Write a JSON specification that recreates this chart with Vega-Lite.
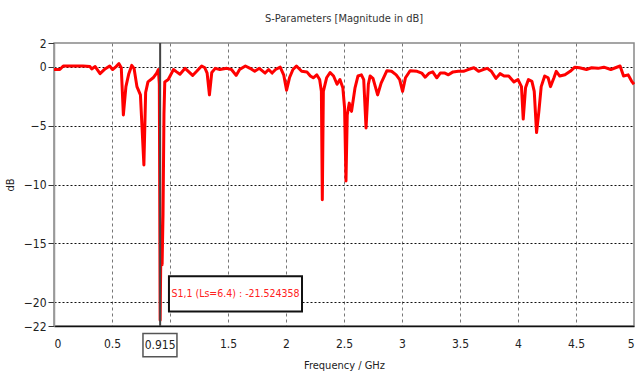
{
  "$schema": "https://vega.github.io/schema/vega-lite/v6.json",
  "autosize": "none",
  "width": 580,
  "height": 283,
  "padding": {"left": 54, "top": 43, "right": 3, "bottom": 54},
  "background": "white",
  "title": {"text": "S-Parameters [Magnitude in dB]", "fontSize": 11, "fontWeight": "normal", "color": "#333", "offset": 13, "font": "DejaVu Sans Condensed"},
  "config": {
    "font": "DejaVu Sans Condensed",
    "view": {"stroke": "#888", "strokeWidth": 1.5},
    "axis": {"labelFontSize": 12, "labelColor": "#222", "titleFontSize": 11, "titleFontWeight": "normal", "titleColor": "#222", "labelFont": "DejaVu Sans Condensed", "titleFont": "DejaVu Sans Condensed"}
  },
  "datasets": {
    "s11": [
      {"f": 0, "db": -0.25}, {"f": 0.05, "db": -0.25}, {"f": 0.08, "db": 0.05}, {"f": 0.15, "db": 0.05},
      {"f": 0.25, "db": 0.05}, {"f": 0.31, "db": 0.0}, {"f": 0.325, "db": -0.2}, {"f": 0.355, "db": 0.0},
      {"f": 0.397, "db": -0.6}, {"f": 0.44, "db": -0.2}, {"f": 0.48, "db": 0.05}, {"f": 0.505, "db": -0.25},
      {"f": 0.535, "db": 0.0}, {"f": 0.56, "db": 0.25}, {"f": 0.58, "db": -0.1}, {"f": 0.598, "db": -4.1},
      {"f": 0.62, "db": -1.7}, {"f": 0.645, "db": -0.6}, {"f": 0.67, "db": 0.1}, {"f": 0.69, "db": -0.15},
      {"f": 0.715, "db": -1.7}, {"f": 0.745, "db": -2.4}, {"f": 0.775, "db": -8.35}, {"f": 0.79, "db": -2.2},
      {"f": 0.81, "db": -1.3}, {"f": 0.855, "db": -0.95}, {"f": 0.885, "db": -0.55}, {"f": 0.9, "db": -0.25},
      {"f": 0.908, "db": -1.5}, {"f": 0.915, "db": -21.52}, {"f": 0.922, "db": -14.8}, {"f": 0.932, "db": -16.8},
      {"f": 0.94, "db": -12.5}, {"f": 0.948, "db": -4}, {"f": 0.955, "db": -1.3}, {"f": 0.985, "db": -1.1},
      {"f": 1.006, "db": -0.7}, {"f": 1.03, "db": -0.25}, {"f": 1.057, "db": -0.45}, {"f": 1.086, "db": -0.65},
      {"f": 1.13, "db": -0.15}, {"f": 1.158, "db": -0.4}, {"f": 1.195, "db": -0.75}, {"f": 1.23, "db": -0.4},
      {"f": 1.273, "db": 0.05}, {"f": 1.3, "db": -0.1}, {"f": 1.32, "db": -0.55}, {"f": 1.34, "db": -2.4},
      {"f": 1.36, "db": -0.5}, {"f": 1.39, "db": -0.15}, {"f": 1.43, "db": -0.25}, {"f": 1.49, "db": -0.15},
      {"f": 1.53, "db": -0.25}, {"f": 1.57, "db": -0.75}, {"f": 1.6, "db": -0.25}, {"f": 1.65, "db": 0.05},
      {"f": 1.69, "db": -0.15}, {"f": 1.73, "db": -0.4}, {"f": 1.77, "db": -0.15}, {"f": 1.82, "db": -0.55},
      {"f": 1.85, "db": -0.25}, {"f": 1.88, "db": -0.55}, {"f": 1.91, "db": -0.25}, {"f": 1.95, "db": -0.05},
      {"f": 1.98, "db": -0.7}, {"f": 2.005, "db": -2.0}, {"f": 2.03, "db": -0.95}, {"f": 2.06, "db": -0.25},
      {"f": 2.09, "db": 0.05}, {"f": 2.135, "db": -0.4}, {"f": 2.18, "db": -0.45}, {"f": 2.21, "db": -0.8},
      {"f": 2.235, "db": -0.95}, {"f": 2.265, "db": -0.7}, {"f": 2.29, "db": -1.1}, {"f": 2.305, "db": -2.1},
      {"f": 2.313, "db": -11.3}, {"f": 2.322, "db": -2.1}, {"f": 2.35, "db": -0.95}, {"f": 2.38, "db": -0.5},
      {"f": 2.41, "db": -0.8}, {"f": 2.44, "db": -1.5}, {"f": 2.465, "db": -1.1}, {"f": 2.49, "db": -1.8},
      {"f": 2.505, "db": -3.5}, {"f": 2.517, "db": -9.7}, {"f": 2.528, "db": -4.1}, {"f": 2.545, "db": -3.1},
      {"f": 2.565, "db": -3.8}, {"f": 2.595, "db": -1.8}, {"f": 2.62, "db": -0.8}, {"f": 2.65, "db": -0.7},
      {"f": 2.67, "db": -1.1}, {"f": 2.69, "db": -5.2}, {"f": 2.71, "db": -1.5}, {"f": 2.725, "db": -0.8},
      {"f": 2.75, "db": -1.0}, {"f": 2.79, "db": -2.4}, {"f": 2.82, "db": -1.4}, {"f": 2.87, "db": -0.35},
      {"f": 2.91, "db": -0.4}, {"f": 2.95, "db": -0.7}, {"f": 2.98, "db": -1.1}, {"f": 3.005, "db": -2.1},
      {"f": 3.03, "db": -0.95}, {"f": 3.07, "db": -0.35}, {"f": 3.13, "db": -0.4}, {"f": 3.17, "db": -0.55},
      {"f": 3.2, "db": -0.9}, {"f": 3.235, "db": -0.55}, {"f": 3.265, "db": -0.45}, {"f": 3.3, "db": -0.95},
      {"f": 3.33, "db": -0.55}, {"f": 3.37, "db": -0.55}, {"f": 3.4, "db": -0.7}, {"f": 3.44, "db": -0.45},
      {"f": 3.485, "db": -0.4}, {"f": 3.53, "db": -0.4}, {"f": 3.57, "db": -0.25}, {"f": 3.62, "db": -0.1},
      {"f": 3.66, "db": -0.4}, {"f": 3.7, "db": -0.25}, {"f": 3.735, "db": -0.15}, {"f": 3.77, "db": -0.4},
      {"f": 3.81, "db": -1.0}, {"f": 3.845, "db": -0.6}, {"f": 3.88, "db": -0.8}, {"f": 3.92, "db": -0.8},
      {"f": 3.965, "db": -1.3}, {"f": 4.0, "db": -1.1}, {"f": 4.03, "db": -1.7}, {"f": 4.045, "db": -4.45},
      {"f": 4.065, "db": -1.8}, {"f": 4.09, "db": -1.1}, {"f": 4.12, "db": -1.25}, {"f": 4.14, "db": -2.1},
      {"f": 4.16, "db": -5.6}, {"f": 4.18, "db": -3.8}, {"f": 4.2, "db": -1.7}, {"f": 4.23, "db": -0.8},
      {"f": 4.26, "db": -0.95}, {"f": 4.28, "db": -1.7}, {"f": 4.31, "db": -0.95}, {"f": 4.33, "db": -0.4},
      {"f": 4.36, "db": -0.8}, {"f": 4.405, "db": -0.7}, {"f": 4.45, "db": -0.4}, {"f": 4.49, "db": -0.05},
      {"f": 4.53, "db": -0.1}, {"f": 4.59, "db": -0.25}, {"f": 4.635, "db": -0.1}, {"f": 4.69, "db": -0.15},
      {"f": 4.74, "db": -0.05}, {"f": 4.8, "db": -0.25}, {"f": 4.84, "db": -0.1}, {"f": 4.88, "db": 0.05},
      {"f": 4.91, "db": -0.8}, {"f": 4.95, "db": -0.7}, {"f": 4.98, "db": -1.25}, {"f": 5.0, "db": -1.5}
    ],
    "marker": [{"f": 0.915, "top": 2, "bottom": -22}],
    "markerLabel": [{"f": 0.915, "x1": 0.767, "x2": 1.06, "y1": -22.64, "y2": -24.6, "ty": -23.62, "label": "0.915"}],
    "note": [{"x1": 0.991, "x2": 2.138, "y1": -17.79, "y2": -20.77, "tx": 1.565, "ty": -19.28, "label": "S1,1 (Ls=6.4) : -21.524358"}]
  },
  "layer": [
    {
      "data": {"name": "s11"},
      "mark": {"type": "line", "color": "#ff0000", "strokeWidth": 3, "strokeJoin": "round"},
      "encoding": {
        "x": {
          "field": "f", "type": "quantitative",
          "scale": {"domain": [0, 5], "nice": false, "zero": false},
          "axis": {
            "values": [0, 0.5, 1, 1.5, 2, 2.5, 3, 3.5, 4, 4.5, 5],
            "format": "~g",
            "labelExpr": "datum.value == 1 ? '' : datum.label",
            "title": "Frequency / GHz",
            "titlePadding": 10,
            "ticks": false,
            "labelPadding": 12,
            "domainColor": "#111",
            "domainWidth": 1.5,
            "grid": true,
            "gridColor": "#777",
            "gridDash": [3, 3],
            "gridWidth": 1,
            "gridOpacity": {"condition": {"test": "datum.value == 0 || datum.value == 5", "value": 0}, "value": 1}
          }
        },
        "y": {
          "field": "db", "type": "quantitative",
          "scale": {"domain": [-22, 2], "nice": false, "zero": false},
          "axis": {
            "values": [2, 0, -5, -10, -15, -20, -22],
            "title": "dB",
            "titlePadding": 8,
            "tickSize": 6,
            "tickColor": "#333",
            "labelPadding": 2,
            "domainColor": "#999",
            "domainWidth": 1.5,
            "grid": true,
            "gridColor": "#111",
            "gridDash": [2, 2],
            "gridWidth": 1,
            "gridOpacity": {"condition": {"test": "datum.value == 2 || datum.value == -22", "value": 0}, "value": 1}
          }
        }
      }
    },
    {
      "data": {"name": "marker"},
      "mark": {"type": "rule", "color": "#444", "strokeWidth": 2},
      "encoding": {
        "x": {"field": "f", "type": "quantitative"},
        "y": {"field": "top", "type": "quantitative"},
        "y2": {"field": "bottom"}
      }
    },
    {
      "data": {"name": "markerLabel"},
      "mark": {"type": "rect", "fill": "white", "stroke": "#555", "strokeWidth": 1.5},
      "encoding": {
        "x": {"field": "x1", "type": "quantitative"},
        "x2": {"field": "x2"},
        "y": {"field": "y1", "type": "quantitative"},
        "y2": {"field": "y2"}
      }
    },
    {
      "data": {"name": "markerLabel"},
      "mark": {"type": "text", "fontSize": 12, "color": "#222", "align": "center", "baseline": "middle"},
      "encoding": {
        "x": {"field": "f", "type": "quantitative"},
        "y": {"field": "ty", "type": "quantitative"},
        "text": {"field": "label"}
      }
    },
    {
      "data": {"name": "note"},
      "mark": {"type": "rect", "fill": "white", "stroke": "#111", "strokeWidth": 2},
      "encoding": {
        "x": {"field": "x1", "type": "quantitative"},
        "x2": {"field": "x2"},
        "y": {"field": "y1", "type": "quantitative"},
        "y2": {"field": "y2"}
      }
    },
    {
      "data": {"name": "note"},
      "mark": {"type": "text", "fontSize": 10.5, "color": "#ff2020", "align": "center", "baseline": "middle"},
      "encoding": {
        "x": {"field": "tx", "type": "quantitative"},
        "y": {"field": "ty", "type": "quantitative"},
        "text": {"field": "label"}
      }
    }
  ]
}
